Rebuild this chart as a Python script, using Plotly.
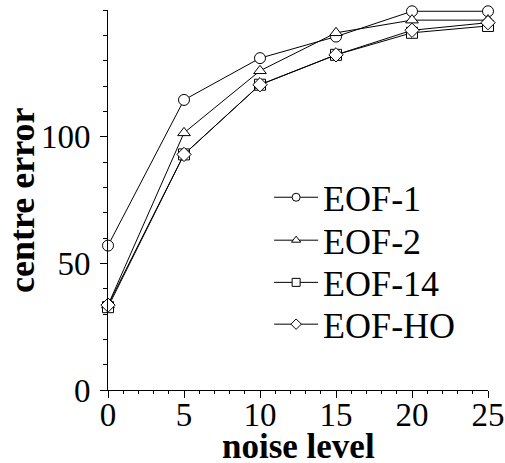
import plotly.graph_objects as go

noise = [0, 5, 10, 15, 20, 25]
eof1 = [57, 114.5, 131, 139.5, 149.5, 149.5]
eof2 = [33.5, 101.5, 126, 141, 146, 146]
eof14 = [32.7, 93, 120.5, 132.3, 141, 143.7]
eofho = [33.5, 93, 120.5, 132.3, 142, 145]

names = ["EOF-1", "EOF-2", "EOF-14", "EOF-HO"]
symbols = ["circle", "triangle-up", "square", "diamond"]
series = [eof1, eof2, eof14, eofho]
legend_ids = ["legend", "legend2", "legend3", "legend4"]
legend_y = [0.507, 0.394, 0.283, 0.173]

x_title = "noise level"
y_title = "centre error"

FONT = "Liberation Serif"

fig = go.Figure()
for name, sym, ys in zip(names, symbols, series):
    fig.add_trace(go.Scatter(
        x=noise, y=ys, mode="lines+markers", name=name, showlegend=False,
        line=dict(color="black", width=1),
        marker=dict(symbol=sym, size=11, color="white",
                    line=dict(color="black", width=1)),
        cliponaxis=False,
    ))
for name, sym, lid in zip(names, symbols, legend_ids):
    fig.add_trace(go.Scatter(
        x=[None], y=[None], mode="lines+markers", name=name, showlegend=True,
        legend=lid,
        line=dict(color="black", width=1),
        marker=dict(symbol=sym, size=8, color="white",
                    line=dict(color="black", width=1)),
    ))

legend_common = dict(xanchor="left", yanchor="middle", bgcolor="rgba(0,0,0,0)",
                     font=dict(size=36, family=FONT), itemsizing="trace",
                     itemwidth=44, borderwidth=0)

fig.update_layout(
    width=505, height=463,
    margin=dict(l=108, r=17, t=10, b=73),
    paper_bgcolor="white", plot_bgcolor="white",
    font=dict(family=FONT, size=33, color="black"),
    showlegend=True,
    xaxis=dict(range=[0, 25], tickvals=[0, 5, 10, 15, 20, 25],
               showline=True, linecolor="black", linewidth=1,
               ticks="outside", ticklen=7, tickcolor="black", tickwidth=1,
               tickfont=dict(size=33), ticklabeloverflow="allow",
               ticklabelstandoff=-12,
               minor=dict(dtick=1, ticks="outside", ticklen=3, tickcolor="black"),
               showgrid=False, zeroline=False, automargin=False),
    yaxis=dict(range=[0, 150], tickvals=[0, 50, 100],
               showline=True, linecolor="black", linewidth=1,
               ticks="outside", ticklen=7, tickcolor="black", tickwidth=1,
               tickfont=dict(size=33), ticklabelstandoff=3,
               minor=dict(dtick=10, ticks="outside", ticklen=4, tickcolor="black"),
               showgrid=False, zeroline=False, automargin=False),
    annotations=[
        dict(text="<b>" + x_title + "</b>", xref="paper", yref="paper",
             x=0.5, y=0, xanchor="center", yanchor="middle", yshift=-56,
             showarrow=False, font=dict(size=35, family=FONT)),
        dict(text="<b>" + y_title + "</b>", xref="paper", yref="paper",
             x=0, y=0.5, xanchor="center", yanchor="middle", xshift=-86,
             textangle=-90, showarrow=False, font=dict(size=36, family=FONT)),
    ],
)
for lid, ly in zip(legend_ids, legend_y):
    fig.update_layout({lid: dict(x=0.424, y=ly, **legend_common)})

# remove the page's default body margin so the figure fills the window exactly
fig.write_html("out.html", config={"displayModeBar": False},
               post_script="document.body.style.margin='0';document.body.style.overflow='hidden';")
